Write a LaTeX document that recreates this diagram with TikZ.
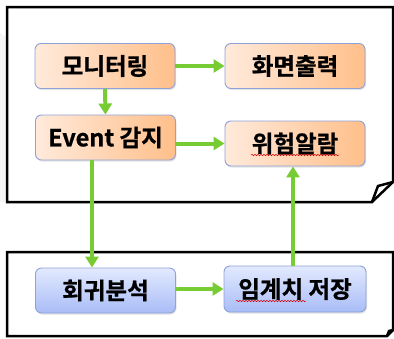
\documentclass[tikz,border=0pt]{standalone}
\usepackage{fontspec}
\newfontfamily\kr{Noto Sans CJK KR}[BoldFont={Noto Sans CJK KR Bold},BoldFeatures={FakeBold=0.8}]
\usetikzlibrary{arrows.meta,shadows,decorations.pathmorphing}
\definecolor{arrowgreen}{HTML}{77CC33}
\definecolor{boxborder}{HTML}{8EA2D8}
\definecolor{orlight}{HTML}{FFEADB}
\definecolor{ordark}{HTML}{FFBF8A}
\definecolor{bllight}{HTML}{E3EAFF}
\definecolor{bldark}{HTML}{A8BCF6}
\tikzset{
  box/.style={rounded corners=6pt, draw=boxborder, line width=0.9pt,
    minimum width=140pt, minimum height=45pt, inner sep=0pt,
    font=\kr\bfseries\fontsize{23.5}{27}\selectfont, text=black,
    drop shadow={opacity=0.22, shadow xshift=1pt, shadow yshift=-1.5pt}},
  obox/.style={box, left color=orlight, right color=ordark},
  bbox/.style={box, top color=bllight, bottom color=bldark},
  flow/.style={draw=arrowgreen, line width=4pt, -{Triangle[length=11pt,width=13pt]}},
  frame/.style={draw=black, line width=2.5pt, line join=miter},
  spell/.style={draw=red!85!black, line width=0.5pt, decorate,
    decoration={snake, amplitude=0.7pt, segment length=3pt}}
}
\begin{document}
\begin{tikzpicture}[x=1pt,y=-1pt]
\useasboundingbox (0,0) rectangle (394,338);
% faint background shadow
\fill[gray!7] (0,33) -- (300,202) -- (0,202) -- cycle;
% frames
\draw[frame, fill=white] (7,7) -- (393,7) -- (393,182) -- (372,202) -- (7,202) -- cycle;
\draw[frame] (372,202) -- (378,186) -- (393,182);
\draw[frame, fill=white] (7,252) -- (393,252) -- (393,330) -- (387,336) -- (7,336) -- cycle;
\draw[frame] (387,336) -- (389,331) -- (393,330);
% nodes
\node[obox] (mon) at (105,66) {모니터링};
\node[obox] (scr) at (295,66) {화면출력};
\node[obox] (evt) at (105.5,137.5) {Event 감지};
\node[obox] (alm) at (295,143.5) {위험알람};
\node[bbox] (reg) at (105.5,290.5) {회귀분석};
\node[bbox, minimum width=142pt, minimum height=46pt] (thr) at (295,289) {임계치 저장};
% spell-check underlines
\draw[spell] (251,155) -- (339,155);
\draw[spell] (236,301) -- (306,301);
% connectors
\coordinate (cl) at (92,0);
\coordinate (cr) at (293,0);
\draw[flow] (mon.east) -- (scr.west);
\draw[flow] (mon.south) -- (evt.north);
\draw[flow] (evt.east |- alm.west) -- (alm.west);
\draw[flow] (evt.south -| cl) -- (reg.north -| cl);
\draw[flow] (thr.north -| cr) -- (alm.south -| cr);
\draw[flow] (reg.east |- thr.west) -- (thr.west);
\end{tikzpicture}
\end{document}
